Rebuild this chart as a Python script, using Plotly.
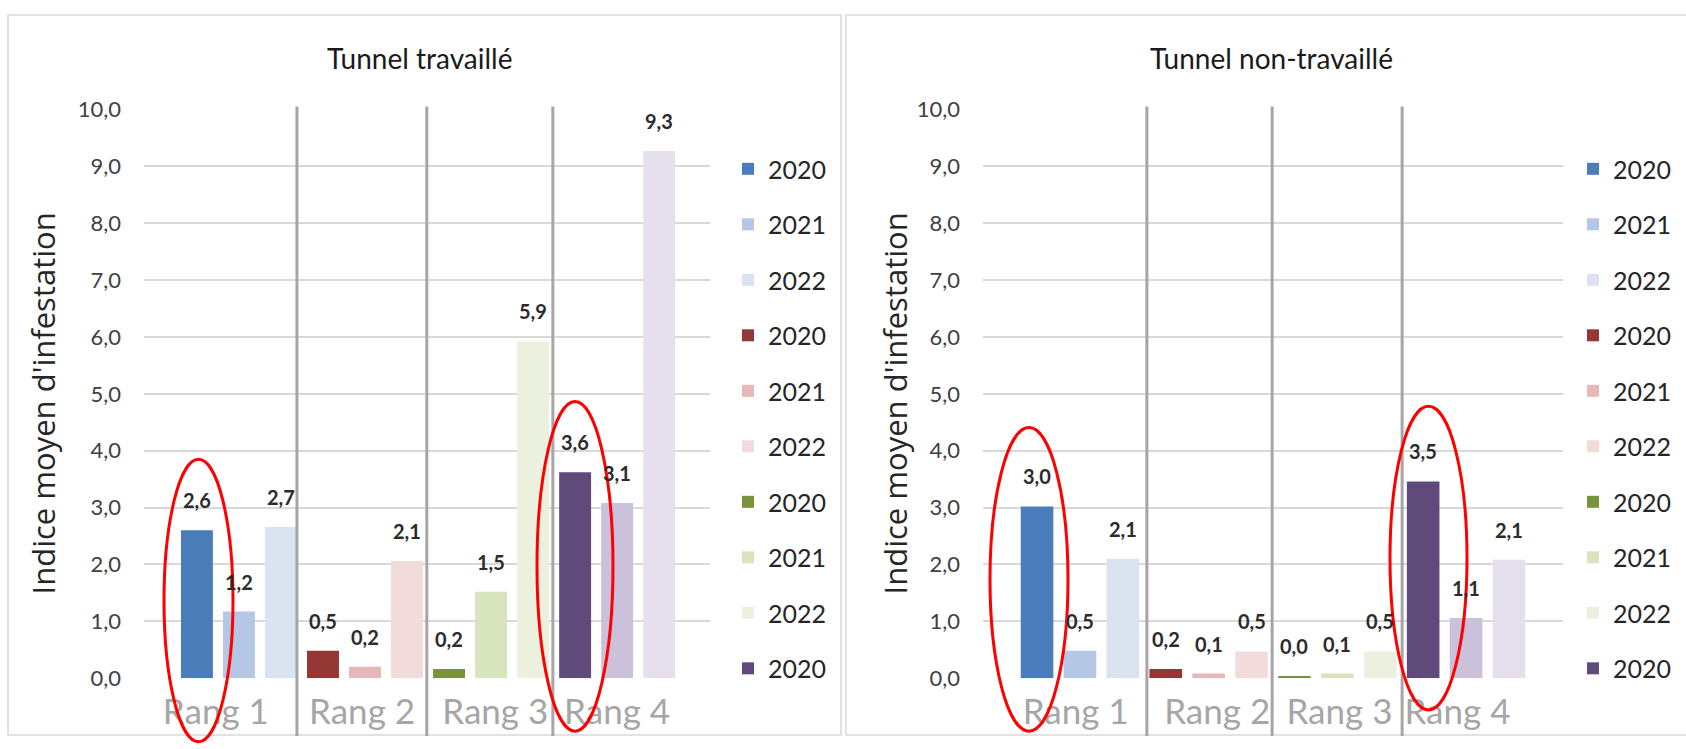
import plotly.graph_objects as go

# ---------------- data ----------------
categories = ["Rang 1", "Rang 2", "Rang 3", "Rang 4"]
bar_years = ["2020", "2021", "2022", "2020", "2021", "2022",
             "2020", "2021", "2022", "2020", "2021", "2022"]
travaille_values = [2.6, 1.17, 2.66, 0.48, 0.2, 2.06,
                    0.16, 1.52, 5.92, 3.62, 3.08, 9.27]
non_travaille_values = [3.02, 0.48, 2.1, 0.16, 0.08, 0.47,
                        0.04, 0.08, 0.47, 3.46, 1.06, 2.08]
bar_colors = ["#4a7ebb", "#b4c8e5", "#dae4f1",
              "#953735", "#e6b9b8", "#f2dcdb",
              "#77933c", "#d7e4bd", "#ebf1de",
              "#604a7b", "#ccc1da", "#e5e0ec"]
panel_titles = ["Tunnel travaillé", "Tunnel non-travaillé"]
y_title = "Indice moyen d'infestation"
y_ticks = [0, 1, 2, 3, 4, 5, 6, 7, 8, 9, 10]

# ---------------- layout helpers ----------------
W, H = 1686, 749
def px(xp):
    return xp / W
def py(yp):
    return 1 - yp / H

fig = go.Figure()

panels = [
    dict(values=travaille_values, xa="x", ya="y", legend="legend"),
    dict(values=non_travaille_values, xa="x2", ya="y2", legend="legend2"),
]
n_legend_visible = 10

for p_i, p in enumerate(panels):
    for i, (v, yr, c) in enumerate(zip(p["values"], bar_years, bar_colors)):
        fig.add_trace(go.Bar(
            x=[i], y=[v], width=0.76, name=yr,
            marker=dict(color=c, line=dict(width=0)),
            xaxis=p["xa"], yaxis=p["ya"], legend=p["legend"],
            legendgroup=f"p{p_i}_{i}", showlegend=i < n_legend_visible,
            hoverinfo="skip",
        ))
        fig.add_annotation(
            x=i, y=v, xref=p["xa"], yref=p["ya"],
            text=f"{v:.1f}".replace(".", ","),
            showarrow=False, yanchor="bottom", yshift=16,
            font=dict(family="Lato", size=20, color="#2b2b2b", weight="bold"),
        )

# axes
xr_left = [-1.26, 12.21]
xr_right = [-1.26, 12.26]
tick_left = [0.45, 3.93, 7.1, 10.0]
tick_right = [0.9, 4.2, 7.05, 9.8]

common_y = dict(range=[0, 10], tickvals=y_ticks, tickformat=".1f",
                showgrid=True, gridcolor="#d9d9d9", gridwidth=1.5,
                zeroline=False, showline=False, ticks="",
                ticklabelstandoff=22,
                tickfont=dict(family="Lato", size=22, color="#404040"),
                domain=[py(689), py(99)])
common_x = dict(showgrid=False, zeroline=False, showline=False, ticks="",
                ticklabelstandoff=10,
                tickfont=dict(family="Lato", size=35, color="#a6a6a6"))

fig.update_layout(
    xaxis=dict(range=xr_left, domain=[px(144), px(710)], anchor="y",
               tickvals=tick_left, ticktext=categories, **common_x),
    yaxis=dict(anchor="x", **common_y),
    xaxis2=dict(range=xr_right, domain=[px(983), px(1563)], anchor="y2",
                tickvals=tick_right, ticktext=categories, **common_x),
    yaxis2=dict(anchor="x2", **common_y),
)

legend_common = dict(yanchor="top", xanchor="left", y=py(137),
                     tracegroupgap=20, bgcolor="rgba(0,0,0,0)",
                     font=dict(family="Lato", size=25, color="#262626"),
                     itemclick=False, itemdoubleclick=False)
fig.update_layout(
    legend=dict(x=px(728), **legend_common),
    legend2=dict(x=px(1573), **legend_common),
)

shapes = []
# panel borders
shapes.append(dict(type="rect", xref="paper", yref="paper",
                   x0=px(8), x1=px(841), y0=py(748), y1=py(1),
                   line=dict(color="#d9d9d9", width=1.5), layer="below"))
shapes.append(dict(type="rect", xref="paper", yref="paper",
                   x0=px(846), x1=px(1700), y0=py(748), y1=py(1),
                   line=dict(color="#d9d9d9", width=1.5), layer="below"))
# white gaps in top gridline
for g0, g1, ya in [(395, 473, "y"), (1240, 1319, "y2")]:
    shapes.append(dict(type="line", xref="paper", yref=ya,
                       x0=px(g0), x1=px(g1), y0=10, y1=10,
                       line=dict(color="white", width=4), layer="between"))
# separators
for xa, seps in [("x", [2.38, 5.47, 8.47]), ("x2", [2.56, 5.48, 8.51])]:
    for s in seps:
        shapes.append(dict(type="line", xref=xa, yref="paper",
                           x0=s, x1=s, y0=py(749), y1=py(96),
                           line=dict(color="#a6a6a6", width=3)))
# red ellipses
for x0, x1, y0, y1 in [(164, 233, 462, 755), (537, 613, 402, 744),
                       (990, 1068, 429, 744), (1390, 1467, 407, 722)]:
    shapes.append(dict(type="circle", xref="paper", yref="paper",
                       x0=px(x0), x1=px(x1), y0=py(y1), y1=py(y0),
                       line=dict(color="#ff0000", width=3)))
fig.update_layout(shapes=shapes)

# titles
for t, xc in zip(panel_titles, [419, 1271]):
    fig.add_annotation(x=px(xc), y=py(46), xref="paper", yref="paper",
                       text=t, showarrow=False, xanchor="center", yanchor="middle",
                       font=dict(family="Lato", size=28, color="#1a1a1a"))
for xc in [43, 895]:
    fig.add_annotation(x=px(xc), y=py(404), xref="paper", yref="paper",
                       text=y_title, showarrow=False, textangle=-90,
                       xanchor="center", yanchor="middle",
                       font=dict(family="Open Sans", size=31, color="#262626"))

fig.update_layout(
    width=W, height=H, autosize=False,
    margin=dict(l=0, r=0, t=0, b=0),
    paper_bgcolor="white", plot_bgcolor="white",
    barmode="overlay", separators=", ",
    showlegend=True,
)

fig.write_html(
    "out.html",
    config={"displayModeBar": False, "staticPlot": False},
    post_script="document.body.style.margin='0';document.body.style.overflow='hidden';",
)
